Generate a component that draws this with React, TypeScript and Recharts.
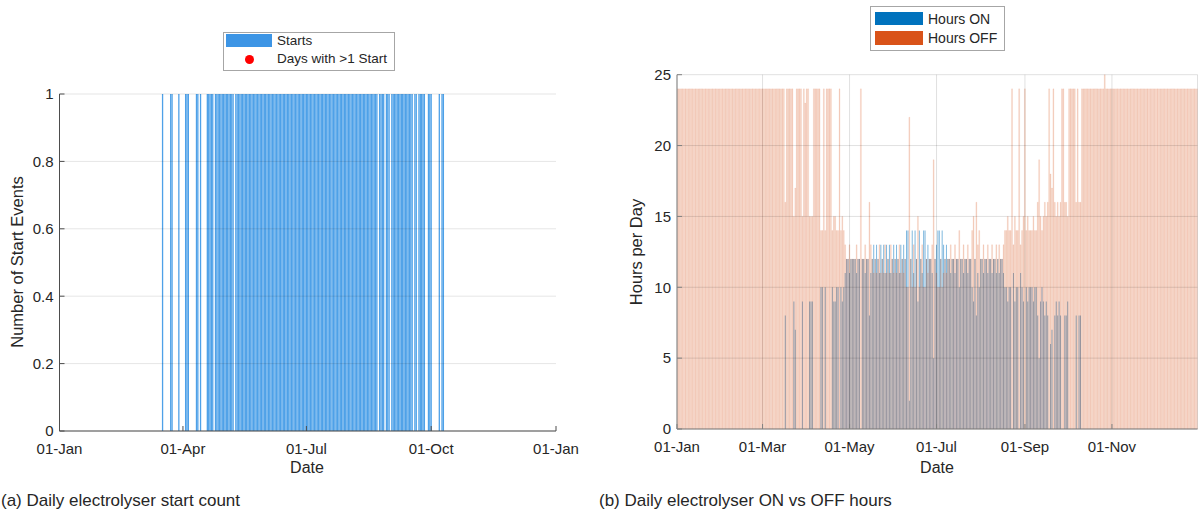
import React from 'react';
import {
  ComposedChart,
  Bar,
  XAxis,
  YAxis,
  CartesianGrid,
} from 'recharts';

// 2024, one value per day (day 0 = 01-Jan)
const startsPerDay = [
  // Jan
  0,0,0,0,0,0,0,0,0,0, 0,0,0,0,0,0,0,0,0,0, 0,0,0,0,0,0,0,0,0,0, 0,
  // Feb
  0,0,0,0,0,0,0,0,0,0, 0,0,0,0,0,0,0,0,0,0, 0,0,0,0,0,0,0,0,0,
  // Mar
  0,0,0,0,0,0,0,0,0,0, 0,0,0,0,0,0,1,0,0,0, 0,0,1,1,0,0,0,0,1,0, 0,
  // Apr
  0,0,1,1,1,0,0,0,0,0, 1,1,0,1,0,0,0,0,1,1, 1,1,1,0,1,1,1,1,1,1,
  // May
  1,1,1,1,1,1,1,1,0,1, 1,1,1,1,1,1,1,1,1,1, 1,1,1,1,1,1,1,1,1,1, 1,
  // Jun
  1,1,1,1,1,1,1,1,1,1, 1,1,1,1,1,1,1,1,1,1, 1,1,1,1,1,1,1,1,1,1,
  // Jul
  1,1,1,1,1,1,1,1,1,1, 1,1,1,1,1,1,1,1,1,1, 1,1,1,1,1,1,1,1,1,1, 1,
  // Aug
  1,1,1,1,1,1,1,1,1,1, 1,1,1,1,1,1,1,1,1,1, 1,1,0,1,1,1,1,0,1,1, 1,
  // Sep
  0,1,1,1,1,1,1,1,1,1, 1,1,1,1,1,1,1,0,1,1, 0,1,1,1,1,1,0,0,1,1,
  // Oct
  1,0,0,0,0,0,1,0,1,1, 0,0,0,0,0,0,0,0,0,0, 0,0,0,0,0,0,0,0,0,0, 0,
  // Nov
  0,0,0,0,0,0,0,0,0,0, 0,0,0,0,0,0,0,0,0,0, 0,0,0,0,0,0,0,0,0,0,
  // Dec
  0,0,0,0,0,0,0,0,0,0, 0,0,0,0,0,0,0,0,0,0, 0,0,0,0,0,0,0,0,0,0, 0,
];

const hoursOn = [
  // Jan
  0,0,0,0,0,0,0,0,0,0, 0,0,0,0,0,0,0,0,0,0, 0,0,0,0,0,0,0,0,0,0, 0,
  // Feb
  0,0,0,0,0,0,0,0,0,0, 0,0,0,0,0,0,0,0,0,0, 0,0,0,0,0,0,0,0,0,
  // Mar
  0,0,0,0,0,0,0,0,0,0, 0,0,0,0,0,0,8,0,0,0, 0,0,9,7,0,0,0,0,9,0, 0,
  // Apr
  0,0,9,9,9,0,0,0,0,0, 10,10,0,10,0,0,0,0,10,9, 9,10,10,0,10,9,10,11,12,12,
  // May
  11,12,12,12,12,11,12,12,0,12, 12,11,12,12,8,11,12,13,12,13, 12,11,13,12,13,11,13,12,13,11, 12,
  // Jun
  13,12,13,12,11,13,12,13,12,14, 14,2,12,14,11,14,12,9,14,12, 11,14,14,12,13,12,12,11,5,12,
  // Jul
  13,14,14,12,14,13,12,13,12,12, 11,12,12,11,12,12,10,12,12,11, 12,12,11,12,12,10,9,12,8,11, 10,
  // Aug
  12,12,11,12,12,11,12,12,11,12, 12,11,12,11,12,12,11,10,10,9, 10,10,0,11,9,10,10,0,11,10, 9,
  // Sep
  0,10,9,10,10,10,9,10,10,8, 5,9,10,9,8,9,8,0,6,7, 0,8,9,8,9,8,0,0,8,8,
  // Oct
  9,0,0,0,0,0,8,0,8,8, 0,0,0,0,0,0,0,0,0,0, 0,0,0,0,0,0,0,0,0,0, 0,
  // Nov
  0,0,0,0,0,0,0,0,0,0, 0,0,0,0,0,0,0,0,0,0, 0,0,0,0,0,0,0,0,0,0,
  // Dec
  0,0,0,0,0,0,0,0,0,0, 0,0,0,0,0,0,0,0,0,0, 0,0,0,0,0,0,0,0,0,0, 0,
];

const hoursOff = [
  // Jan
  24,24,24,24,24,24,24,24,24,24, 24,24,24,24,24,24,24,24,24,24, 24,24,24,24,24,24,24,24,24,24, 24,
  // Feb
  24,24,24,24,24,24,24,24,24,24, 24,24,24,24,24,24,24,24,24,24, 24,24,24,24,24,24,24,24,24,
  // Mar
  24,24,24,24,24,24,24,24,24,24, 24,24,24,24,24,24,16,24,24,24, 24,24,15,17,24,24,24,24,15,24, 23,
  // Apr
  24,24,15,15,15,24,24,24,24,24, 14,14,24,14,24,24,24,24,14,15, 15,14,14,24,14,15,14,13,12,12,
  // May
  13,12,12,12,12,13,12,12,24,12, 12,13,12,12,16,13,12,11,12,11, 12,13,11,12,11,13,11,12,11,13, 12,
  // Jun
  11,12,11,12,13,11,12,11,12,10, 10,22,12,10,13,10,12,15,10,12, 13,10,10,12,11,12,12,13,19,12,
  // Jul
  11,10,10,12,10,11,12,11,12,12, 13,12,12,13,12,12,14,12,12,13, 12,12,13,12,12,14,15,12,16,13, 14,
  // Aug
  12,12,13,12,12,13,12,12,13,12, 12,13,12,13,12,12,13,14,14,15, 14,14,24,13,15,14,14,24,13,14, 15,
  // Sep
  24,14,15,14,14,14,15,14,14,16, 19,15,14,15,16,15,16,24,18,17, 24,16,15,16,15,16,24,24,16,16,
  // Oct
  15,24,24,24,24,24,16,24,16,16, 24,24,24,24,24,24,24,24,24,24, 24,24,24,24,24,24,25,24,24,24, 24,
  // Nov
  24,24,24,24,24,24,24,24,24,24, 24,24,24,24,24,24,24,24,24,24, 24,24,24,24,24,24,24,24,24,24,
  // Dec
  24,24,24,24,24,24,24,24,24,24, 24,24,24,24,24,24,24,24,24,24, 24,24,24,24,24,24,24,24,24,24, 24,
];

const ticksA = [0, 91, 182, 274, 366];
const tickLabelsA = ['01-Jan', '01-Apr', '01-Jul', '01-Oct', '01-Jan'];
const ticksB = [0, 60, 121, 182, 244, 305];
const tickLabelsB = ['01-Jan', '01-Mar', '01-May', '01-Jul', '01-Sep', '01-Nov'];
const startTicks = [0, 0.2, 0.4, 0.6, 0.8, 1];
const hourTicks = [0, 5, 10, 15, 20, 25];

const rows = hoursOn.map((on, i) => ({
  day: i,
  starts: startsPerDay[i],
  on,
  off: hoursOff[i],
}));

const TXT = '#262626';
const FONT = '"Liberation Sans", Arial, Helvetica, sans-serif';
const tickStyle = { fill: TXT, fontSize: 15 };

const Text: React.FC<{
  x: number;
  y: number;
  size?: number;
  rotate?: boolean;
  left?: boolean;
  children: React.ReactNode;
}> = ({ x, y, size = 15, rotate, left, children }) => (
  <div
    style={{
      position: 'absolute',
      left: x,
      top: y,
      transform: `translate(${left ? '0' : '-50%'}, -50%)${rotate ? ' rotate(-90deg)' : ''}`,
      fontSize: size,
      lineHeight: 1,
      whiteSpace: 'nowrap',
      color: TXT,
    }}
  >
    {children}
  </div>
);

const blank = () => '';

const App: React.FC = () => {
  return (
    <div
      style={{
        position: 'absolute',
        left: 0,
        top: 0,
        width: 1200,
        height: 517,
        background: '#fff',
        fontFamily: FONT,
        overflow: 'hidden',
      }}
    >
      {/* (a) starts per day */}
      <div style={{ position: 'absolute', left: 0, top: 0 }}>
        <ComposedChart
          width={600}
          height={517}
          data={rows}
          margin={{ top: 94, right: 44, bottom: 56, left: 9.5 }}
        >
          <XAxis
            dataKey="day"
            type="number"
            domain={[0, 366]}
            ticks={ticksA}
            tickFormatter={(v, i) => tickLabelsA[i]}
            allowDataOverflow
            interval={0}
            height={30}
            tickSize={-5}
            tickMargin={17}
            stroke="#4d4d4d"
            tick={tickStyle}
          />
          <XAxis
            xAxisId="top"
            orientation="top"
            dataKey="day"
            type="number"
            domain={[0, 366]}
            ticks={ticksA}
            tickFormatter={blank}
            height={0}
            tickSize={-5}
            stroke="#4d4d4d"
          />
          <YAxis
            domain={[0, 1]}
            ticks={startTicks}
            interval={0}
            width={50}
            tickSize={-5}
            tickMargin={11}
            stroke="#4d4d4d"
            tick={tickStyle}
          />
          <YAxis
            yAxisId="r"
            orientation="right"
            domain={[0, 1]}
            ticks={startTicks}
            tickFormatter={blank}
            width={0}
            tickSize={-5}
            stroke="#4d4d4d"
          />
          <Bar
            dataKey="starts"
            fill="#4ea1e8"
            barSize={1.3}
            isAnimationActive={false}
          />
          <CartesianGrid
            vertical={false}
            stroke="#000"
            strokeOpacity={0.1}
            zIndex={350}
          />
        </ComposedChart>
      </div>

      {/* (b) hours on vs off */}
      <div style={{ position: 'absolute', left: 600, top: 0 }}>
        <ComposedChart
          width={600}
          height={517}
          data={rows}
          margin={{ top: 74.7, right: 2.5, bottom: 58, left: 27 }}
        >
          <XAxis
            dataKey="day"
            type="number"
            domain={[0, 365]}
            ticks={ticksB}
            tickFormatter={(v, i) => tickLabelsB[i]}
            allowDataOverflow
            interval={0}
            height={30}
            tickSize={-5}
            tickMargin={17}
            stroke="#808080"
            tick={tickStyle}
          />
          <XAxis
            xAxisId="off"
            dataKey="day"
            type="number"
            domain={[0, 365]}
            allowDataOverflow
            hide
          />
          <XAxis
            xAxisId="top"
            orientation="top"
            dataKey="day"
            type="number"
            domain={[0, 365]}
            ticks={ticksB}
            tickFormatter={blank}
            height={0}
            tickSize={-5}
            stroke="#808080"
          />
          <YAxis
            domain={[0, 25]}
            ticks={hourTicks}
            interval={0}
            width={50}
            tickSize={-5}
            tickMargin={11}
            stroke="#808080"
            tick={tickStyle}
          />
          <YAxis
            yAxisId="r"
            orientation="right"
            domain={[0, 25]}
            ticks={hourTicks}
            tickFormatter={blank}
            width={0}
            tickSize={-5}
            stroke="#808080"
          />
          <Bar
            dataKey="on"
            fill="#0072BD"
            fillOpacity={0.5}
            isAnimationActive={false}
          />
          <Bar
            dataKey="off"
            xAxisId="off"
            fill="#D95319"
            fillOpacity={0.25}
            stroke="#D95319"
            strokeOpacity={0.25}
            strokeWidth={0.3}
            isAnimationActive={false}
          />
          <CartesianGrid stroke="#000" strokeOpacity={0.12} zIndex={350} />
        </ComposedChart>
      </div>

      {/* legend (a) */}
      <div
        style={{
          position: 'absolute',
          left: 223,
          top: 32,
          width: 170,
          height: 37,
          border: '1px solid #a6a6a6',
          background: '#fff',
        }}
      />
      <div style={{ position: 'absolute', left: 226, top: 34, width: 46, height: 13, background: '#3d95e5' }} />
      <Text x={277} y={41} size={13.5} left>Starts</Text>
      <div style={{ position: 'absolute', left: 244.5, top: 54.5, width: 9, height: 9, borderRadius: '50%', background: '#ff0000' }} />
      <Text x={277} y={59} size={13.5} left>Days with &gt;1 Start</Text>

      {/* legend (b) */}
      <div
        style={{
          position: 'absolute',
          left: 870,
          top: 6,
          width: 133,
          height: 43,
          border: '1px solid #a6a6a6',
          background: '#fff',
        }}
      />
      <div style={{ position: 'absolute', left: 875, top: 12, width: 48, height: 13, background: '#0072BD' }} />
      <Text x={928} y={18.5} size={14} left>Hours ON</Text>
      <div style={{ position: 'absolute', left: 875, top: 31, width: 48, height: 14, background: '#D95319' }} />
      <Text x={928} y={38} size={14} left>Hours OFF</Text>

      {/* axis titles */}
      <Text x={307} y={468} size={16}>Date</Text>
      <Text x={937} y={468} size={16}>Date</Text>
      <Text x={17} y={262} size={16.5} rotate>Number of Start Events</Text>
      <Text x={636} y={252} size={16.5} rotate>Hours per Day</Text>

      {/* captions */}
      <Text x={1} y={500} size={17} left>(a) Daily electrolyser start count</Text>
      <Text x={599} y={500} size={17} left>(b) Daily electrolyser ON vs OFF hours</Text>
    </div>
  );
};

export default App;
